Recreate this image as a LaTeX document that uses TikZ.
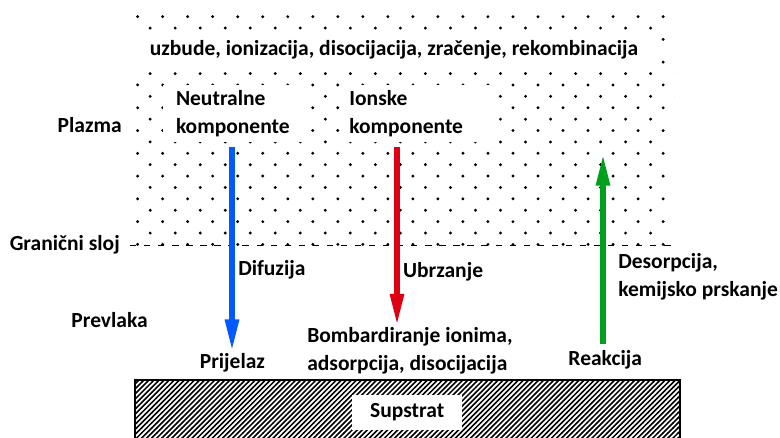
\documentclass[tikz,border=0pt]{standalone}
\usepackage{fontspec}
\setmainfont{Carlito}
\usepackage{tikz}
\usetikzlibrary{arrows.meta,patterns}
\usepackage{xcolor}
\definecolor{ionred}{RGB}{222,0,18}
\definecolor{neutralblue}{RGB}{0,90,255}
\definecolor{reactgreen}{RGB}{0,160,30}

% staggered dots for the plasma, diagonal hatch for the substrate
\pgfdeclarepatternformonly{plasma dots}{\pgfqpoint{-1.5pt}{-1.5pt}}{\pgfqpoint{19.3pt}{17.7pt}}{\pgfqpoint{17.8pt}{16.2pt}}{
  \pgfpathcircle{\pgfqpoint{0pt}{0pt}}{1.15pt}
  \pgfpathcircle{\pgfqpoint{8.9pt}{8.1pt}}{1.15pt}
  \pgfusepath{fill}}
\pgfdeclarepatternformonly{substrate lines}{\pgfqpoint{-1pt}{-1pt}}{\pgfqpoint{4.6pt}{4.6pt}}{\pgfqpoint{3.6pt}{3.6pt}}{
  \pgfsetlinewidth{1.1pt}
  \pgfpathmoveto{\pgfqpoint{-0.1pt}{-0.1pt}}
  \pgfpathlineto{\pgfqpoint{3.7pt}{3.7pt}}
  \pgfusepath{stroke}}

\begin{document}
\begin{tikzpicture}[
    font=\fontsize{15.3}{20}\selectfont\bfseries,
    txt/.style={inner sep=0pt,align=left},
    whitebox/.style={fill=white,align=left},
    flux/.style={line width=4.6pt,-{Triangle[width=9pt,length=24pt]}},
    boundary/.style={dash pattern=on 4.5pt off 5.5pt,line width=0.7pt}
]
\useasboundingbox (0,0) rectangle (19.5,-10.95);

% Plasma
\fill[pattern=plasma dots] (3.2,-0.3) rectangle (16.85,-6.15);
\draw[boundary] (3.25,-6.125) -- (16.9,-6.125);

% Processes in the plasma
\node[whitebox,minimum width=13cm,minimum height=0.9cm,inner sep=0pt] (processes) at (9.85,-1.25) {uzbude, ionizacija, disocijacija, zračenje, rekombinacija};
\node[whitebox,text width=2.9cm,inner xsep=0.33cm,minimum height=1.43cm] (neutral) at (5.85,-2.84) {Neutralne\\komponente};
\node[whitebox,text width=3.45cm,inner xsep=0.08cm,minimum height=1.43cm] (ionic) at (10.46,-2.84) {Ionske\\komponente};

% Layers
\node[txt,anchor=east] (plazma) at (3.05,-3.125) {Plazma};
\node[txt,anchor=east] (granicni) at (3.0,-6.125) {Granični sloj};
\node[txt] (prevlaka) at (2.74,-8.0) {Prevlaka};

% Substrate
\draw[line width=1.1pt,pattern=substrate lines] (3.375,-9.5) rectangle (17.0,-11.3);
\node[whitebox,minimum width=2.75cm,minimum height=0.875cm,inner sep=0pt] (supstrat) at (10.18,-10.31) {Supstrat};

% Labels along the arrows
\node[txt,anchor=west] (difuzija) at (5.95,-6.75) {Difuzija};
\node[txt] (prijelaz) at (5.81,-9.07) {Prijelaz};
\node[txt,anchor=west] (ubrzanje) at (10.07,-6.8) {Ubrzanje};
\node[txt,anchor=west] (bombard) at (7.675,-8.78) {Bombardiranje ionima,\\adsorpcija, disocijacija};
\node[txt,anchor=west] (desorp) at (15.45,-6.93) {Desorpcija,\\kemijsko prskanje};
\node[txt] (reakcija) at (15.13,-9.0) {Reakcija};

% Arrows
\coordinate (bluetop) at (5.8,-3.675);
\coordinate (redtop) at (9.925,-3.675);
\coordinate (greentip) at (15.075,-3.8);
\draw[flux,draw=neutralblue] (bluetop) -- (bluetop |- prijelaz.north);
\draw[flux,draw=ionred] (redtop) -- (redtop |- bombard.north);
\draw[flux,draw=reactgreen] ([yshift=0.15cm]reakcija.north -| greentip) -- (greentip);
\end{tikzpicture}
\end{document}
